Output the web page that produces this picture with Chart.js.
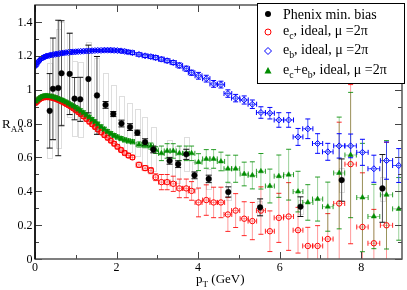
<!DOCTYPE html>
<html>
<head>
<meta charset="utf-8">
<script src="https://cdn.jsdelivr.net/npm/chart.js@4.4.1/dist/chart.umd.min.js"></script>
<style>
  html, body { margin: 0; padding: 0; background: #fff; }
</style>
</head>
<body>
<canvas id="raaChart" width="407" height="290"></canvas>
<script>
'use strict';

// pT bin centres (GeV) shared by the three model curves
var pt = [0.02, 0.06, 0.10, 0.14, 0.18, 0.22, 0.26, 0.30, 0.35, 0.40,
          0.45, 0.50, 0.55, 0.60, 0.65, 0.70, 0.76, 0.82, 0.88, 0.94,
          1.00, 1.06, 1.12, 1.19, 1.26, 1.33, 1.40, 1.47, 1.54, 1.62,
          1.70, 1.78, 1.86, 1.94, 2.02, 2.11, 2.20, 2.29, 2.39, 2.55,
          2.70, 2.84, 2.96, 3.10, 3.24, 3.39, 3.54, 3.71, 3.84, 4.01,
          4.20, 4.38, 4.56, 4.73, 4.92, 5.13, 5.33, 5.54, 5.76, 5.98,
          6.22, 6.45, 6.69, 6.93, 7.18, 7.46, 7.74, 8.03, 8.31, 8.62,
          8.92];
// half bin widths
var binHalf = [0.02, 0.02, 0.02, 0.02, 0.02, 0.02, 0.02, 0.02, 0.025, 0.025,
               0.025, 0.025, 0.025, 0.025, 0.025, 0.025, 0.03, 0.03, 0.03, 0.03,
               0.03, 0.03, 0.03, 0.035, 0.035, 0.035, 0.035, 0.035, 0.035, 0.04,
               0.04, 0.04, 0.04, 0.04, 0.04, 0.045, 0.045, 0.045, 0.05, 0.07,
               0.07, 0.065, 0.065, 0.07, 0.07, 0.075, 0.08, 0.08, 0.08, 0.085,
               0.09, 0.09, 0.09, 0.095, 0.1, 0.1, 0.105, 0.11, 0.11, 0.115,
               0.12, 0.12, 0.125, 0.125, 0.13, 0.135, 0.14, 0.14, 0.145, 0.15,
               0.15];

// e_c, ideal
var charmRaa = [0.922, 0.932, 0.941, 0.948, 0.952, 0.955, 0.956, 0.956, 0.955, 0.953,
                0.950, 0.946, 0.941, 0.936, 0.930, 0.924, 0.916, 0.908, 0.899, 0.889,
                0.879, 0.868, 0.856, 0.842, 0.827, 0.811, 0.796, 0.780, 0.765, 0.748,
                0.732, 0.716, 0.699, 0.681, 0.663, 0.644, 0.626, 0.611, 0.600, 0.556,
                0.537, 0.522, 0.483, 0.454, 0.454, 0.444, 0.417, 0.417, 0.402, 0.334,
                0.348, 0.334, 0.334, 0.263, 0.286, 0.238, 0.224, 0.286, 0.164, 0.243,
                0.251, 0.170, 0.077, 0.077, 0.118, 0.328, 0.560, 0.189, 0.093, 0.199,
                null];
var charmErr = [0.01, 0.01, 0.01, 0.01, 0.01, 0.01, 0.01, 0.01, 0.01, 0.01,
                0.01, 0.01, 0.01, 0.01, 0.01, 0.01, 0.01, 0.01, 0.01, 0.01,
                0.012, 0.012, 0.012, 0.012, 0.012, 0.012, 0.012, 0.012, 0.012, 0.012,
                0.012, 0.012, 0.012, 0.012, 0.012, 0.012, 0.012, 0.012, 0.012, 0.015,
                0.015, 0.018, 0.02, 0.045, 0.045, 0.045, 0.055, 0.055, 0.055, 0.085,
                0.09, 0.09, 0.09, 0.1, 0.1, 0.1, 0.11, 0.14, 0.12, 0.145,
                0.2, 0.135, 0.11, 0.12, 0.15, 0.48, 0.47, 0.32, 0.2, 0.49,
                null];

// e_b, ideal
var bottomRaa = [1.142, 1.158, 1.170, 1.180, 1.187, 1.192, 1.196, 1.199, 1.202, 1.205,
                 1.207, 1.209, 1.211, 1.213, 1.215, 1.217, 1.219, 1.220, 1.222, 1.223,
                 1.224, 1.225, 1.226, 1.227, 1.228, 1.229, 1.230, 1.231, 1.232, 1.232,
                 1.233, 1.233, 1.233, 1.232, 1.231, 1.229, 1.226, 1.222, 1.218, 1.208,
                 1.200, 1.195, 1.189, 1.180, 1.171, 1.160, 1.143, 1.124, 1.100, 1.082,
                 1.065, 1.034, 1.030, 0.977, 0.950, 0.939, 0.914, 0.865, 0.861, 0.821,
                 0.821, 0.721, 0.769, 0.682, 0.633, 0.668, 0.668, 0.630, 0.533, 0.581,
                 0.552];
var bottomErr = [0.006, 0.006, 0.006, 0.006, 0.006, 0.006, 0.006, 0.006, 0.006, 0.006,
                 0.006, 0.006, 0.006, 0.006, 0.006, 0.006, 0.006, 0.006, 0.006, 0.006,
                 0.006, 0.006, 0.006, 0.006, 0.006, 0.006, 0.006, 0.006, 0.006, 0.006,
                 0.008, 0.008, 0.008, 0.008, 0.008, 0.008, 0.008, 0.008, 0.01, 0.01,
                 0.01, 0.01, 0.012, 0.012, 0.012, 0.012, 0.015, 0.015, 0.015, 0.02,
                 0.02, 0.02, 0.02, 0.022, 0.022, 0.024, 0.025, 0.034, 0.034, 0.043,
                 0.043, 0.05, 0.058, 0.058, 0.05, 0.072, 0.07, 0.077, 0.08, 0.11,
                 0.1];

// e_c+e_b, ideal
var sumRaa = [0.930, 0.940, 0.948, 0.955, 0.959, 0.962, 0.963, 0.963, 0.962, 0.960,
              0.957, 0.953, 0.949, 0.944, 0.939, 0.934, 0.927, 0.919, 0.911, 0.903,
              0.894, 0.885, 0.875, 0.863, 0.850, 0.837, 0.823, 0.810, 0.796, 0.780,
              0.766, 0.752, 0.740, 0.729, 0.720, 0.711, 0.703, 0.697, 0.692, 0.676,
              0.672, 0.667, 0.643, 0.624, 0.638, 0.638, 0.624, 0.624, 0.624, 0.572,
              0.591, 0.591, 0.576, 0.533, 0.533, 0.502, 0.494, 0.518, 0.431, 0.489,
              0.498, 0.398, 0.334, 0.354, 0.309, 0.508, 0.614, 0.363, 0.251, 0.379,
              0.296];
var sumErr = [0.01, 0.01, 0.01, 0.01, 0.01, 0.01, 0.01, 0.01, 0.01, 0.01,
              0.01, 0.01, 0.01, 0.01, 0.01, 0.01, 0.01, 0.01, 0.01, 0.01,
              0.012, 0.012, 0.012, 0.012, 0.012, 0.012, 0.012, 0.012, 0.012, 0.012,
              0.012, 0.012, 0.012, 0.012, 0.012, 0.012, 0.012, 0.012, 0.012, 0.015,
              0.015, 0.018, 0.02, 0.043, 0.043, 0.043, 0.043, 0.043, 0.043, 0.05,
              0.055, 0.055, 0.055, 0.08, 0.08, 0.07, 0.08, 0.105, 0.1, 0.125,
              0.15, 0.12, 0.105, 0.13, 0.145, 0.33, 0.37, 0.32, 0.19, 0.32,
              0.185];

// Phenix min. bias
var phenixPt   = [0.36, 0.44, 0.57, 0.65, 0.85, 0.97, 1.11, 1.31, 1.52, 1.73,
                  1.92, 2.12, 2.33, 2.51, 2.70, 2.90, 3.30, 3.51, 3.71, 3.91,
                  4.26, 4.74, 5.52, 6.51, 7.52, 8.52];
var phenixRaa  = [0.875, 1.005, 1.010, 1.097, 1.093, 0.947, 0.943, 1.063, 0.966, 0.910,
                  0.856, 0.800, 0.779, 0.746, 0.690, 0.647, 0.580, 0.560, 0.618, 0.494,
                  0.473, 0.396, 0.305, 0.309, 0.466, 0.417];
var phenixStat = [0.22, 0.30, 0.40, 0.31, 0.24, 0.125, 0.13, 0.20, 0.23, 0.02,
                  0.015, 0.02, 0.02, 0.015, 0.02, 0.02, 0.02, 0.02, 0.03, 0.02,
                  0.022, 0.03, 0.05, 0.058, 0.125, 0.2];
var phenixSys  = [0.28, 0.30, 0.35, 0.30, 0.25, 0.22, 0.22, 0.22, 0.22, 0.19,
                  0.17, 0.16, 0.145, 0.14, 0.15, 0.13, 0.12, 0.11, 0.10, 0.08,
                  0.06, 0.05, 0.04, 0.04, 0.07, 0.07];

var xTicks = [0, 2, 4, 6, 8];
var xTickLabels = ['0', '2', '4', '6', '8'];
var xMinor = [1, 3, 5, 7];
var yTicks = [0, 0.2, 0.4, 0.6, 0.8, 1, 1.2, 1.4];
var yTickLabels = ['0', '0.2', '0.4', '0.6', '0.8', '1', '1.2', '1.4'];
var yMinor = [0.1, 0.3, 0.5, 0.7, 0.9, 1.1, 1.3];

var RED = '#ff0000';
var BLUE = '#0000ff';
var GREEN = '#008c00';
var SERIF = '"Liberation Serif", "DejaVu Serif", serif';

function points(xs, ys) {
    var out = [];
    for (var i = 0; i < xs.length; i++) {
        if (ys[i] !== null) { out.push({x: xs[i], y: ys[i]}); }
    }
    return out;
}

function drawBars(ctx, sx, sy, xs, ys, ey, ex, lineCol, capCol, cap) {
    for (var i = 0; i < xs.length; i++) {
        if (ys[i] === null) { continue; }
        var px = sx.getPixelForValue(xs[i]);
        var py = sy.getPixelForValue(ys[i]);
        ctx.lineWidth = 1;
        if (ey) {
            var t = sy.getPixelForValue(ys[i] + ey[i]);
            var b = sy.getPixelForValue(ys[i] - ey[i]);
            ctx.strokeStyle = lineCol;
            ctx.beginPath(); ctx.moveTo(px, t); ctx.lineTo(px, b); ctx.stroke();
            ctx.strokeStyle = capCol;
            ctx.beginPath();
            ctx.moveTo(px - cap, t); ctx.lineTo(px + cap, t);
            ctx.moveTo(px - cap, b); ctx.lineTo(px + cap, b);
            ctx.stroke();
        }
        if (ex) {
            var l = sx.getPixelForValue(xs[i] - ex[i]);
            var r = sx.getPixelForValue(xs[i] + ex[i]);
            ctx.strokeStyle = lineCol;
            ctx.beginPath(); ctx.moveTo(l, py); ctx.lineTo(r, py); ctx.stroke();
            ctx.strokeStyle = capCol;
            ctx.beginPath();
            ctx.moveTo(l, py - cap); ctx.lineTo(l, py + cap);
            ctx.moveTo(r, py - cap); ctx.lineTo(r, py + cap);
            ctx.stroke();
        }
    }
}

var errorBars = {
    id: 'errorBars',
    beforeDatasetsDraw: function (chart) {
        var ctx = chart.ctx, sx = chart.scales.x, sy = chart.scales.y, a = chart.chartArea;
        ctx.save();
        ctx.beginPath();
        ctx.rect(a.left, a.top, a.right - a.left, a.bottom - a.top);
        ctx.clip();
        // systematic boxes of the data
        ctx.strokeStyle = '#dedede';
        ctx.lineWidth = 1;
        for (var i = 0; i < phenixPt.length; i++) {
            var l = sx.getPixelForValue(phenixPt[i] - 0.065);
            var r = sx.getPixelForValue(phenixPt[i] + 0.065);
            var t = sy.getPixelForValue(phenixRaa[i] + phenixSys[i]);
            var b = sy.getPixelForValue(phenixRaa[i] - phenixSys[i]);
            ctx.strokeRect(Math.round(l) + 0.5, Math.round(t) + 0.5, Math.round(r - l), Math.round(b - t));
        }
        drawBars(ctx, sx, sy, pt, charmRaa, charmErr, binHalf, 'rgba(255,0,0,0.4)', 'rgba(255,0,0,0.85)', 2.5);
        drawBars(ctx, sx, sy, pt, sumRaa, sumErr, binHalf, 'rgba(0,140,0,0.4)', 'rgba(0,140,0,0.85)', 2.5);
        drawBars(ctx, sx, sy, pt, bottomRaa, bottomErr, binHalf, 'rgba(40,60,255,0.85)', BLUE, 2.5);
        drawBars(ctx, sx, sy, phenixPt, phenixRaa, phenixStat, null, '#555', '#111', 3);
        ctx.restore();
    }
};

function richText(ctx, parts, x, y, size) {
    ctx.textAlign = 'left';
    ctx.textBaseline = 'alphabetic';
    ctx.fillStyle = '#000';
    for (var i = 0; i < parts.length; i++) {
        var sub = parts[i][1] === 'sub';
        var fs = sub ? size * 0.7 : size;
        ctx.font = fs + 'px ' + SERIF;
        ctx.fillText(parts[i][0], x, sub ? y + size * 0.3 : y);
        x += ctx.measureText(parts[i][0]).width;
    }
}

var frameAndText = {
    id: 'frameAndText',
    afterDraw: function (chart) {
        var ctx = chart.ctx, sx = chart.scales.x, sy = chart.scales.y, a = chart.chartArea;
        ctx.save();
        // ticks on all four sides, pointing inwards
        ctx.strokeStyle = '#444';
        ctx.lineWidth = 1;
        ctx.beginPath();
        function xt(v, len) {
            var p = Math.round(sx.getPixelForValue(v)) + 0.5;
            ctx.moveTo(p, a.bottom); ctx.lineTo(p, a.bottom - len);
            ctx.moveTo(p, a.top); ctx.lineTo(p, a.top + len);
        }
        function yt(v, len) {
            var p = Math.round(sy.getPixelForValue(v)) + 0.5;
            ctx.moveTo(a.left, p); ctx.lineTo(a.left + len, p);
            ctx.moveTo(a.right, p); ctx.lineTo(a.right - len, p);
        }
        xTicks.forEach(function (v) { xt(v, 7); });
        xMinor.forEach(function (v) { xt(v, 4); });
        yTicks.forEach(function (v) { yt(v, 7); });
        yMinor.forEach(function (v) { yt(v, 4); });
        ctx.stroke();
        // frame
        ctx.strokeStyle = '#555';
        ctx.lineWidth = 1.5;
        ctx.strokeRect(a.left, a.top, a.right - a.left, a.bottom - a.top);
        ctx.strokeStyle = '#000';
        ctx.beginPath(); ctx.moveTo(a.left, a.top); ctx.lineTo(a.left, a.bottom); ctx.stroke();

        // tick labels
        ctx.fillStyle = '#000';
        ctx.font = '12px ' + SERIF;
        ctx.textAlign = 'center';
        ctx.textBaseline = 'top';
        xTicks.forEach(function (v, i) {
            ctx.fillText(xTickLabels[i], sx.getPixelForValue(v), a.bottom + 3);
        });
        ctx.textAlign = 'right';
        ctx.textBaseline = 'middle';
        yTicks.forEach(function (v, i) {
            ctx.fillText(yTickLabels[i], 32.5, sy.getPixelForValue(v) + 0.5);
        });

        // axis titles
        richText(ctx, [['R', ''], ['AA', 'sub']], 2, 128, 13);
        richText(ctx, [['p', ''], ['T', 'sub'], [' (GeV)', '']], 196, 283, 13);

        // legend
        var lx = 257, ly = 3, lw = 147, lh = 80;
        ctx.fillStyle = '#fff';
        ctx.fillRect(lx, ly, lw, lh);
        ctx.strokeStyle = '#000';
        ctx.lineWidth = 1;
        ctx.strokeRect(lx + 0.5, ly + 0.5, lw, lh);
        var mx = 268, tx = 283;
        var rows = [14, 32, 51, 70.5];
        // markers
        ctx.fillStyle = '#000';
        ctx.beginPath(); ctx.arc(mx, rows[0], 3, 0, Math.PI * 2); ctx.fill();
        ctx.strokeStyle = RED;
        ctx.beginPath(); ctx.arc(mx, rows[1], 3, 0, Math.PI * 2); ctx.stroke();
        ctx.strokeStyle = BLUE;
        ctx.beginPath();
        ctx.moveTo(mx, rows[2] - 3.5); ctx.lineTo(mx + 3.5, rows[2]);
        ctx.lineTo(mx, rows[2] + 3.5); ctx.lineTo(mx - 3.5, rows[2]); ctx.closePath();
        ctx.stroke();
        ctx.fillStyle = GREEN;
        ctx.beginPath();
        ctx.moveTo(mx, rows[3] - 3.5); ctx.lineTo(mx + 3.5, rows[3] + 3);
        ctx.lineTo(mx - 3.5, rows[3] + 3); ctx.closePath();
        ctx.fill();
        // labels
        richText(ctx, [['Phenix min. bias', '']], tx, rows[0] + 4.5, 14);
        richText(ctx, [['e', ''], ['c', 'sub'], [', ideal, \u03bc =2\u03c0', '']], tx, rows[1] + 3, 14);
        richText(ctx, [['e', ''], ['b', 'sub'], [', ideal, \u03bc =2\u03c0', '']], tx, rows[2] + 3, 14);
        richText(ctx, [['e', ''], ['c', 'sub'], ['+e', ''], ['b', 'sub'], [', ideal, \u03bc =2\u03c0', '']], tx, rows[3] + 3, 14);
        ctx.restore();
    }
};

var raaChart = new Chart(document.getElementById('raaChart'), {
    type: 'scatter',
    data: {
        datasets: [
            {
                label: 'Phenix min. bias',
                data: points(phenixPt, phenixRaa),
                pointStyle: 'circle',
                pointRadius: 2.8,
                pointBackgroundColor: '#000',
                pointBorderColor: '#000',
                pointBorderWidth: 0.5
            },
            {
                label: 'e_c+e_b, ideal',
                data: points(pt, sumRaa),
                pointStyle: 'triangle',
                pointRadius: 3,
                pointBackgroundColor: GREEN,
                pointBorderColor: GREEN,
                pointBorderWidth: 0.5
            },
            {
                label: 'e_b, ideal',
                data: points(pt, bottomRaa),
                pointStyle: 'rectRot',
                pointRadius: 3,
                pointBackgroundColor: 'rgba(0,0,0,0)',
                pointBorderColor: BLUE,
                pointBorderWidth: 1
            },
            {
                label: 'e_c, ideal',
                data: points(pt, charmRaa),
                pointStyle: 'circle',
                pointRadius: 2.7,
                pointBackgroundColor: 'rgba(0,0,0,0)',
                pointBorderColor: RED,
                pointBorderWidth: 1
            }
        ]
    },
    options: {
        responsive: false,
        animation: false,
        devicePixelRatio: 1,
        layout: { padding: { top: 1, right: 1, left: 0, bottom: 0 } },
        plugins: {
            legend: { display: false },
            tooltip: { enabled: false }
        },
        scales: {
            x: {
                type: 'linear',
                min: 0,
                max: 9,
                afterFit: function (s) { s.height = 31; },
                grid: { display: false, drawTicks: false },
                border: { display: false },
                ticks: { display: false }
            },
            y: {
                type: 'linear',
                min: 0,
                max: 1.5,
                afterFit: function (s) { s.width = 35; },
                grid: { display: false, drawTicks: false },
                border: { display: false },
                ticks: { display: false }
            }
        }
    },
    plugins: [errorBars, frameAndText]
});
</script>
</body>
</html>
